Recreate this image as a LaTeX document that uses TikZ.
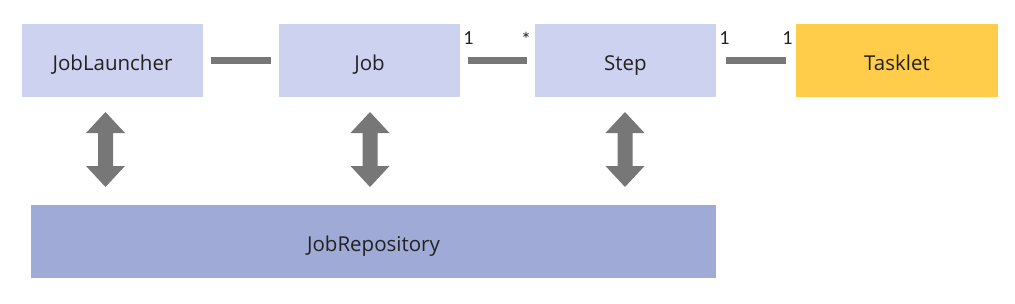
\documentclass[tikz,border=0pt]{standalone}
\usepackage{fontspec}
\setmainfont{Open Sans}
\newfontfamily\numfont{Carlito}
\usetikzlibrary{calc}
\definecolor{boxlight}{HTML}{CDD2F0}
\definecolor{boxrepo}{HTML}{9FAAD7}
\definecolor{boxtask}{HTML}{FFCD4A}
\definecolor{linkgray}{HTML}{777777}
\definecolor{txt}{HTML}{222222}
\begin{document}
\begin{tikzpicture}[x=1pt,y=-1pt,
  box/.style={rectangle,inner sep=0pt,minimum height=73pt,text height=19pt,text depth=0pt,text=txt,font=\fontsize{20.5}{24}\selectfont},
  light/.style={box,fill=boxlight,minimum width=181pt},
  link/.style={draw=linkgray,line width=7pt},
  mult/.style={inner sep=0pt,text=txt,font=\numfont\fontsize{20}{22}\selectfont},
  dbl/.style={fill=linkgray}
]
\useasboundingbox (0,0) rectangle (1015,303);
\node[light] (launcher) at (112.5,60.5) {JobLauncher};
\node[light] (job) at (369.5,60.5) {Job};
\node[light] (step) at (625.5,60.5) {Step};
\node[box,fill=boxtask,minimum width=202pt] (tasklet) at (897,60.5) {Tasklet};
\node[box,fill=boxrepo,minimum width=685pt] (repo) at (373.5,241.5) {JobRepository};

\draw[link,shorten <=8pt,shorten >=8pt] (launcher.east) -- (job.west);
\draw[link,shorten <=8pt,shorten >=8pt] (job.east) -- (step.west);
\draw[link,shorten <=10pt,shorten >=10pt] (step.east) -- (tasklet.west);

\node[mult] (m1) at (468.5,38) {1};
\node[mult] (m2) at (526,39) {*};
\node[mult] (m3) at (724.5,38) {1};
\node[mult] (m4) at (787.5,38) {1};

\foreach \n/\cx in {a1/105.5,a2/370,a3/625}{
  \coordinate (\n) at (\cx,149.5);
  \fill[dbl] ($(\n)+(0,-37.5)$) -- ++(19.5,21) -- ++(-12,0) -- ++(0,33) -- ++(12,0)
    -- ($(\n)+(0,37.5)$) -- ++(-19.5,-21) -- ++(12,0) -- ++(0,-33) -- ++(-12,0) -- cycle;
}
\end{tikzpicture}
\end{document}
